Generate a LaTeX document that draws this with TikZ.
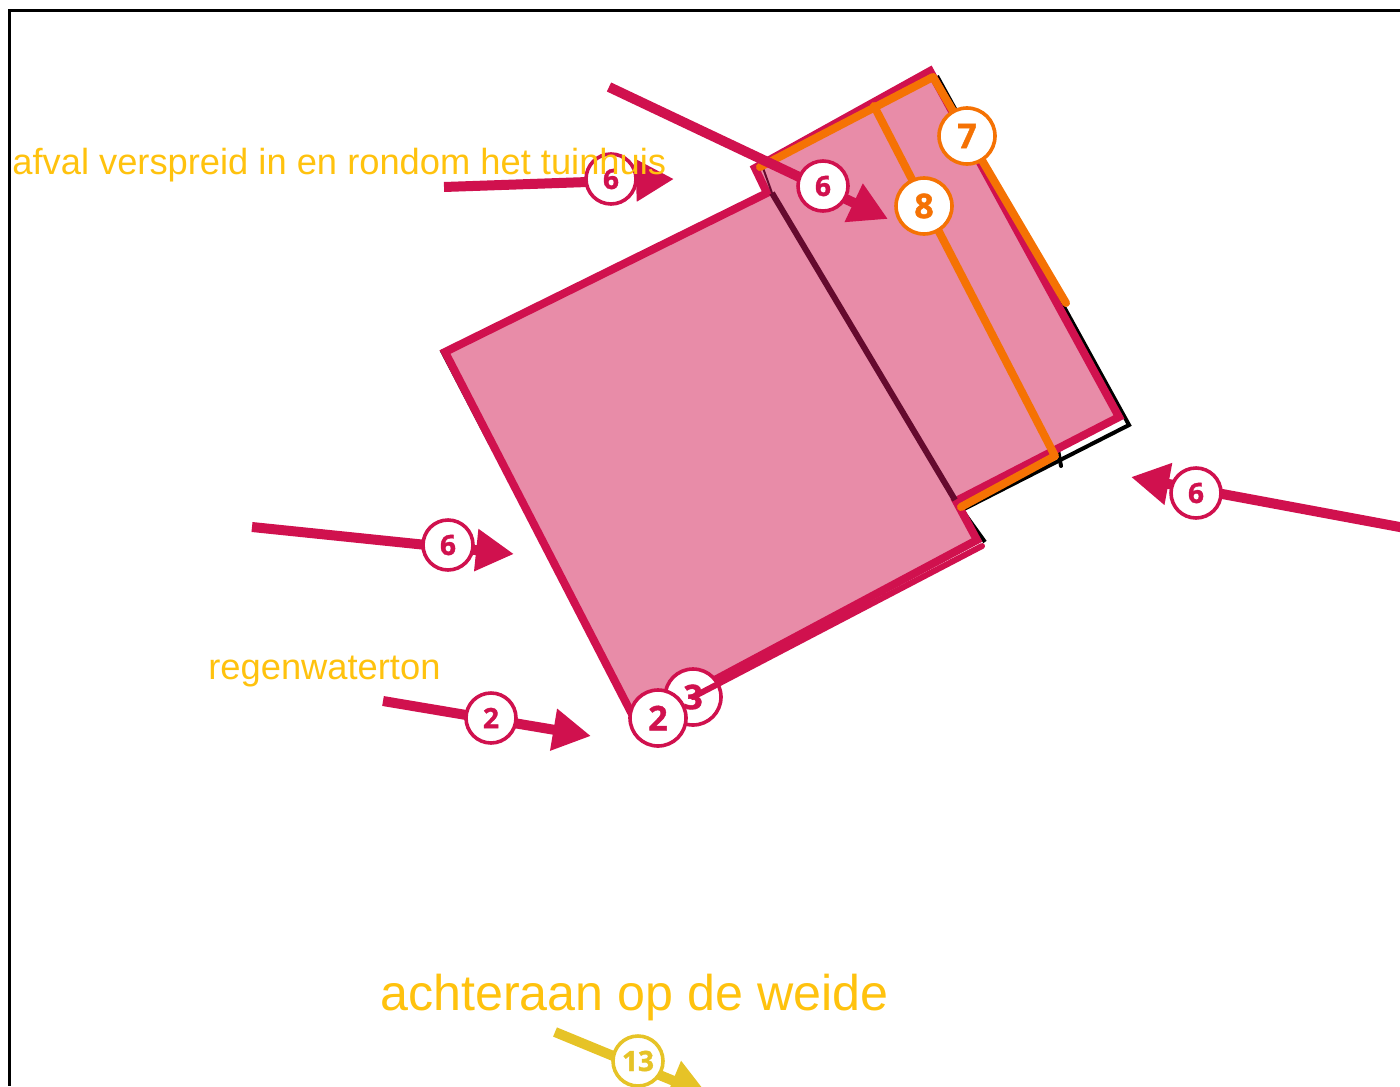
\documentclass[tikz,border=0pt]{standalone}
\usepackage{fontspec}
\setmainfont{Liberation Sans}
\newfontfamily\badgefont[BoldFeatures={FakeBold=1.2}]{Open Sans}
\usetikzlibrary{arrows.meta}
\definecolor{crimson}{HTML}{D0114E}
\definecolor{wallpink}{HTML}{E88CA8}
\definecolor{darkwall}{HTML}{650A2E}
\definecolor{roofline}{HTML}{F57204}
\definecolor{notegold}{HTML}{FFC20E}
\definecolor{weidegold}{HTML}{E6C327}
\tikzset{
	arrowline/.style={line width=5pt, -{Triangle[length=19pt,width=20pt]}},
	wall/.style={line width=4pt, line join=miter, color=crimson},
	roof/.style={line width=4pt, line cap=round, line join=round, color=roofline},
	badge/.style={circle, draw=#1, fill=white, line width=1.8pt, text=#1, inner sep=0pt, minimum size=25pt, font=\badgefont\bfseries\fontsize{14}{14}\selectfont},
	bigbadge/.style={badge=#1, minimum size=28pt, font=\badgefont\bfseries\fontsize{17}{17}\selectfont},
	note/.style={anchor=base west, inner sep=0pt, text=notegold, font=\fontsize{18.15}{18}\selectfont}
}
\begin{document}
\begin{tikzpicture}[x=0.5pt,y=-0.5pt]
\clip (0,0) rectangle (1400,1086);
\useasboundingbox (0,0) rectangle (1400,1086);
\draw[line width=1.5pt] (1400,11) -- (9,11) -- (9,1086);

% outline of the building
\coordinate (hoekW) at (445,352);
\coordinate (hoekZ) at (636,722);
\coordinate (muurA) at (977,540);
\coordinate (muurB) at (956,501);
\coordinate (hoekO) at (1119,417);
\coordinate (hoekN) at (930,71);
\coordinate (nokW) at (755,168);
\coordinate (nokZ) at (767,193);

\draw[line width=2pt, line join=miter] (937,76) -- (1129,425) -- (962,510) -- (985,542);
\draw[line width=1.5pt] (441,350) -- (490,444);
\draw[line width=2pt, line cap=round] (1058,450) -- (1061,466);
\filldraw[wall, fill=wallpink] (hoekW) -- (nokZ) -- (nokW) -- (hoekN) -- (hoekO) -- (muurB) -- (muurA) -- (hoekZ) -- cycle;
\draw[line width=1pt, color=darkwall] (763,168) -- (772,193);
\draw[line width=3pt, color=darkwall] (772,193) -- (955,500);

% roof lines
\coordinate (dakA) at (760,167);
\coordinate (dakB) at (933,77);
\coordinate (dakC) at (1066,303);
\coordinate (dakD) at (874,106);
\coordinate (dakE) at (1055,456);
\coordinate (dakF) at (961,507);
\draw[roof] (dakA) -- (dakB) -- (dakC);
\draw[roof] (dakD) -- (dakE) -- (dakF);

% arrows
\coordinate (pijlA) at (444,187);
\coordinate (pijlB) at (674,179);
\coordinate (pijlC) at (252,527);
\coordinate (pijlD) at (514,554);
\coordinate (pijlE) at (383,701);
\coordinate (pijlF) at (591,736);
\coordinate (pijlG) at (609,87);
\coordinate (pijlH) at (888,219);
\coordinate (pijlI) at (1405,528);
\coordinate (pijlJ) at (1131,477);
\coordinate (pijlK) at (555,1032);
\coordinate (pijlL) at (708,1095);
\path[arrowline, color=crimson]
(pijlA) edge (pijlB)
(pijlC) edge (pijlD)
(pijlE) edge (pijlF)
(pijlG) edge (pijlH)
(pijlI) edge (pijlJ)
;
\path[arrowline, color=weidegold] (pijlK) edge (pijlL);

% badges
\node[badge=crimson] (zesA) at (611,179) {6};
\node[badge=crimson] (zesB) at (448,545) {6};
\node[badge=crimson] (tweeA) at (491,718) {2};
\node[badge=crimson] (zesC) at (823,186) {6};
\node[badge=crimson] (zesD) at (1196,493) {6};
\node[badge=weidegold] (dertien) at (638,1061) {13};
\node[bigbadge=roofline] (zeven) at (967,136) {7};
\node[bigbadge=roofline] (acht) at (924,206) {8};
\node[bigbadge=crimson] (drie) at (693,697) {3};
\coordinate (goot) at (982,546);
\draw[line width=3pt, color=crimson, line cap=round] (goot) -- (drie.center);
\node[bigbadge=crimson] (tweeB) at (658,718) {2};

% texts
\node[note] (afval) at (12,174) {afval verspreid in en rondom het tuinhuis};
\node[note] (regen) at (208,679) {regenwaterton};
\node[note, font=\fontsize{25.1}{25}\selectfont] (weide) at (380,1010) {achteraan op de weide};
\end{tikzpicture}
\end{document}
